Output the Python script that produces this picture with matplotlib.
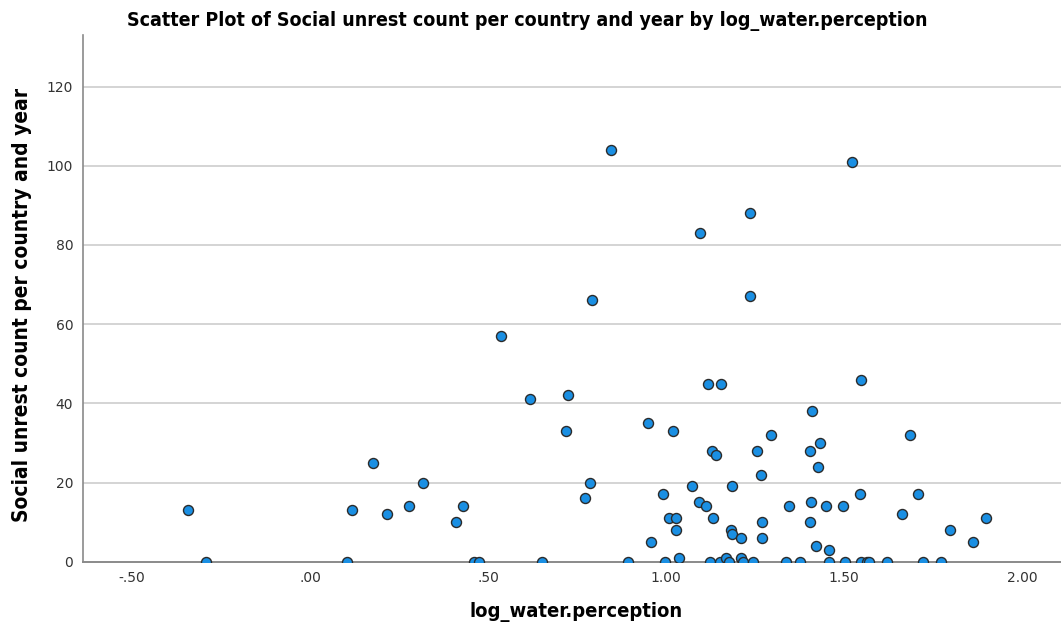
import matplotlib
matplotlib.use("Agg")
import matplotlib.pyplot as plt
from matplotlib.ticker import FuncFormatter

# log_water.perception vs social unrest count
log_water = [
    -0.344, -0.293, 0.105, 0.117, 0.176, 0.217, 0.278, 0.318, 0.409, 0.429,
    0.460, 0.476, 0.536, 0.618, 0.652, 0.720, 0.724, 0.772, 0.787, 0.792,
    0.846, 0.893, 0.950, 0.958, 0.992, 0.998, 1.009, 1.021, 1.029, 1.029,
    1.037, 1.073, 1.094, 1.095, 1.112, 1.119, 1.123, 1.128, 1.133, 1.140,
    1.151, 1.154, 1.170, 1.177, 1.184, 1.187, 1.185, 1.210, 1.212, 1.217,
    1.236, 1.237, 1.245, 1.256, 1.267, 1.269, 1.271, 1.295, 1.336, 1.345,
    1.377, 1.404, 1.404, 1.408, 1.410, 1.421, 1.428, 1.432, 1.450, 1.458,
    1.458, 1.497, 1.502, 1.523, 1.545, 1.549, 1.549, 1.564, 1.570, 1.620,
    1.664, 1.685, 1.709, 1.723, 1.772, 1.798, 1.863, 1.898,
]
unrest = [
    13, 0, 0, 13, 25, 12, 14, 20, 10, 14,
    0, 0, 57, 41, 0, 33, 42, 16, 20, 66,
    104, 0, 35, 5, 17, 0, 11, 33, 11, 8,
    1, 19, 15, 83, 14, 45, 0, 28, 11, 27,
    0, 45, 1, 0, 8, 7, 19, 6, 1, 0,
    88, 67, 0, 28, 22, 6, 10, 32, 0, 14,
    0, 28, 10, 15, 38, 4, 24, 30, 14, 3,
    0, 14, 0, 101, 17, 46, 0, 0, 0, 0,
    12, 32, 17, 0, 0, 8, 5, 11,
]

x_ticks = [-0.5, 0.0, 0.5, 1.0, 1.5, 2.0]
y_ticks = [0, 20, 40, 60, 80, 100, 120]

fig = plt.figure(figsize=(10.61, 6.31), dpi=100)
ax = fig.add_axes([0.0782, 0.1098, 0.9218, 0.8347])

ax.scatter(log_water, unrest, s=52, color="#1a8fe3", edgecolors="#2b2b2b",
           linewidths=1.0, zorder=3)

ax.set_xlim(-0.638, 2.11)
ax.set_ylim(0, 133)
ax.set_xticks(x_ticks)
ax.set_yticks(y_ticks)


def fmt_x(v, pos):
    s = "%.2f" % v
    if s.startswith("0"):
        s = s[1:]
    elif s.startswith("-0"):
        s = "-" + s[2:]
    return s


ax.xaxis.set_major_formatter(FuncFormatter(fmt_x))
ax.tick_params(length=0, labelsize=10, colors="#333333", pad=7)

for yv in y_ticks[1:]:
    ax.axhline(yv, color="#d4d4d4", linewidth=1.4, zorder=1)

for side in ["top", "right"]:
    ax.spines[side].set_visible(False)
ax.spines["left"].set_color("#8a8a8a")
ax.spines["bottom"].set_color("#8a8a8a")
ax.spines["left"].set_linewidth(1.2)
ax.spines["bottom"].set_linewidth(1.4)

bold = dict(fontweight="bold", family="DejaVu Sans", fontstretch="condensed")
fig.text(0.497, 0.967, "Scatter Plot of Social unrest count per country and year by log_water.perception",
         ha="center", va="center", fontsize=14, **bold)
fig.text(0.543, 0.030, "log_water.perception", ha="center", va="center",
         fontsize=14.5, **bold)
fig.text(0.021, 0.517, "Social unrest count per country and year", ha="center", va="center",
         rotation=90, fontsize=15, **bold)

fig.savefig("out.png", dpi=100)
